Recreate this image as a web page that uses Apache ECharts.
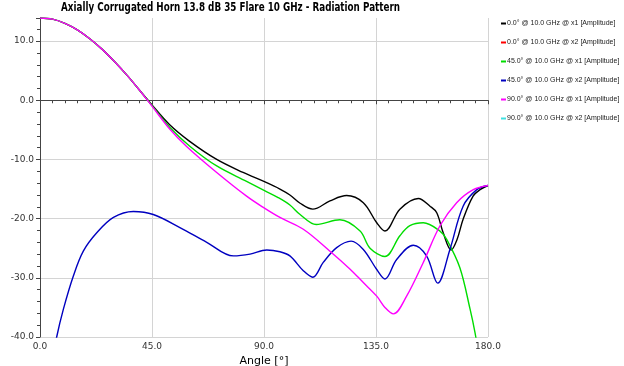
<!DOCTYPE html>
<html><head><meta charset="utf-8">
<script src="https://cdn.jsdelivr.net/npm/echarts@6/dist/echarts.min.js"></script>
<style>html,body{margin:0;padding:0;background:#fff}#c{width:624px;height:366px}</style>
</head><body><div id="c"></div>
<script>
const titleText = 'Axially Corrugated Horn 13.8 dB 35 Flare 10 GHz - Radiation Pattern';
const seriesNames = ['0.0° @ 10.0 GHz @ x1 [Amplitude]','0.0° @ 10.0 GHz @ x2 [Amplitude]','45.0° @ 10.0 GHz @ x1 [Amplitude]','45.0° @ 10.0 GHz @ x2 [Amplitude]','90.0° @ 10.0 GHz @ x1 [Amplitude]','90.0° @ 10.0 GHz @ x2 [Amplitude]'];
const seriesColors = ['#000000','#ff0000','#00dd00','#0000c0','#ff00ff','#40e0e0'];

const ang0x1 = [0,5,10,15,20,25,30,35,40,45,52,60,71,81.6,90.4,96.4,100.4,104.5,109.6,116.5,123.2,129.9,135.3,138.6,144.6,152,156.7,159.4,162,165.2,167.6,170,174,176.8,180];
const val0x1 = [13.9,13.7,13.0,11.9,10.4,8.6,6.5,4.2,1.7,-0.8,-4.1,-6.9,-10.0,-12.2,-13.8,-15.0,-16.0,-17.4,-18.4,-17.0,-16.1,-17.3,-20.7,-22.1,-18.4,-16.6,-17.9,-19.0,-22.4,-25.3,-23.5,-20.1,-16.2,-15.1,-14.4];

const ang0x2 = [];
const val0x2 = [];

const ang45x1 = [0,5,10,15,20,25,30,35,40,45,52.2,60.3,71,83,90.4,95.5,100.4,104.5,111,120.5,128.6,132.6,138.6,144.6,148.6,154,160.7,163.4,168.7,172.8,174.8,176];
const val45x1 = [13.9,13.7,13.0,11.9,10.4,8.6,6.5,4.2,1.7,-0.9,-4.6,-7.8,-11.1,-13.7,-15.3,-16.4,-17.7,-19.3,-21.0,-20.2,-22.1,-25.0,-26.4,-22.9,-21.2,-20.7,-22.1,-23.5,-28.3,-35.3,-39.3,-42.5];

const ang45x2 = [5,6.7,9.4,13.4,17.4,22.8,29.5,37.5,45.5,56.2,67,77.7,84.4,91.1,96.4,100.4,105.8,109.6,113.8,119.2,125,129.9,135.3,138.6,143.3,150,155.3,159.8,164.7,170,175.5,180];
const val45x2 = [-44,-40,-35.3,-29.7,-25.5,-22.4,-19.8,-18.8,-19.3,-21.5,-24.0,-26.3,-26.0,-25.3,-25.6,-26.3,-28.8,-29.9,-27.4,-24.9,-23.8,-25.2,-28.6,-30.2,-26.9,-24.5,-26.3,-30.9,-25.2,-17.9,-15.1,-14.4];

const ang90x1 = [0,5,10,15,20,25,30,35,40,45,52.2,58.9,71,83,89.7,96.4,105.8,116.5,124.5,129.9,135.3,138.6,142,147.3,154,160.7,167.4,174.1,180];
const val90x1 = [13.9,13.7,13.0,11.9,10.4,8.6,6.5,4.2,1.7,-1.0,-4.9,-7.8,-12.2,-16.2,-18.1,-19.8,-21.8,-25.5,-28.5,-30.8,-33.1,-35.0,-36.1,-33.1,-27.4,-21.2,-17.3,-15.1,-14.4];

const ang90x2 = [];
const val90x2 = [];

const xTicks = [0,45,90,135,180];
const yTicks = [-40,-30,-20,-10,0,10];

function pairs(a, v){ return a.map((x,i)=>[x, v[i]]); }
const allAng = [ang0x1, ang0x2, ang45x1, ang45x2, ang90x1, ang90x2];
const allVal = [val0x1, val0x2, val45x1, val45x2, val90x1, val90x2];

const titleFont = 'bold 11.5px "DejaVu Sans", sans-serif';
const mctx = document.createElement('canvas').getContext('2d');
mctx.font = titleFont;
const titleW = mctx.measureText(titleText).width;
const titleScale = 339 / titleW;

const chart = echarts.init(document.getElementById('c'), null, {renderer:'canvas'});
const font = 'Tahoma, "DejaVu Sans", sans-serif';
chart.setOption({
  animation:false,
  backgroundColor:'#ffffff',
  graphic:[{type:'text',x:61,y:8.3,scaleX:titleScale,silent:true,
    style:{text:titleText,font:titleFont,fill:'#000',verticalAlign:'middle',align:'left'}}],
  legend:{orient:'vertical',left:496,top:15,itemGap:12,itemWidth:5,itemHeight:2,icon:'rect',
    data:seriesNames,
    textStyle:{fontFamily:'"Liberation Sans", sans-serif',fontSize:7,color:'#222',padding:[0,0,0,-4]}},
  grid:{left:40,right:136,top:18,bottom:29,containLabel:false,outerBoundsMode:'none'},
  xAxis:{type:'value',min:0,max:180,interval:45,
    name:'Angle [°]',nameLocation:'middle',nameGap:13,
    nameTextStyle:{fontFamily:'"DejaVu Sans", sans-serif',fontSize:11,color:'#000'},
    axisLine:{lineStyle:{color:'#444'}},
    axisTick:{show:true,length:4,lineStyle:{color:'#444'}},
    minorTick:{show:true,splitNumber:9,length:3,lineStyle:{color:'#444'}},
    axisLabel:{margin:5,fontFamily:font,fontSize:9,color:'#333',formatter:v=>xTicks.includes(v)?v.toFixed(1):''},
    splitLine:{show:true,lineStyle:{color:'#d4d4d4'}}},
  yAxis:{type:'value',min:-40,max:13.9,interval:10,
    name:'Amplitude [dBi]',nameLocation:'middle',nameGap:27,
    nameTextStyle:{fontFamily:'"DejaVu Sans", sans-serif',fontSize:11.5,color:'#000'},
    axisLine:{show:true,lineStyle:{color:'#444'}},
    axisTick:{show:true,length:4,lineStyle:{color:'#444'}},
    minorTick:{show:true,splitNumber:5,length:3,lineStyle:{color:'#444'}},
    axisLabel:{margin:6,fontFamily:font,fontSize:9,color:'#333',formatter:v=>yTicks.includes(v)?v.toFixed(1):''},
    splitLine:{show:true,showMaxLine:false,lineStyle:{color:'#d4d4d4'}}},
  series: seriesNames.map((n,i)=>({
    name:n,type:'line',data:pairs(allAng[i],allVal[i]),showSymbol:false,smooth:0.35,clip:true,
    color:seriesColors[i],lineStyle:{width:1.4,color:seriesColors[i]},z:[2,1,3,4,5,1][i]
  }))
});
</script></body></html>
